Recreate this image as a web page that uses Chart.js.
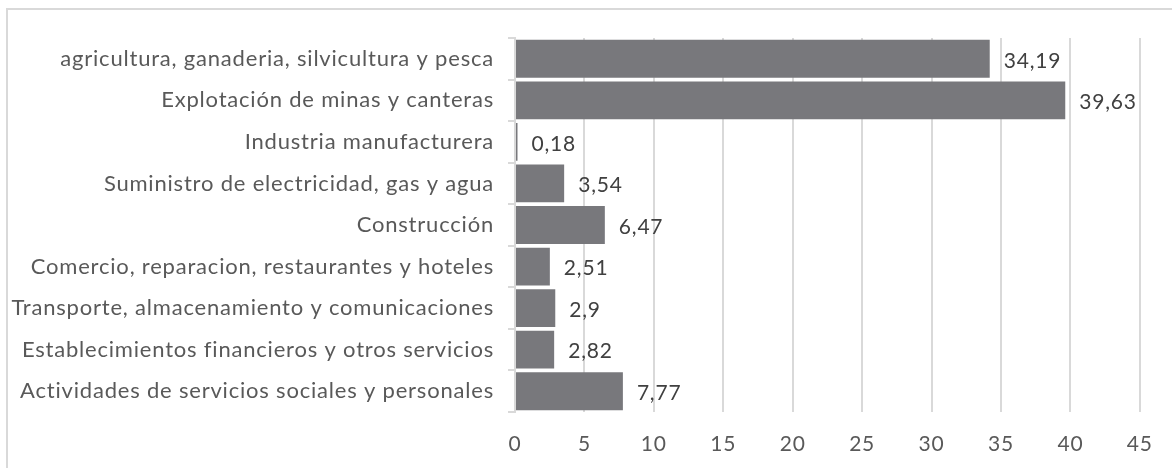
<!DOCTYPE html>
<html>
<head>
<meta charset="utf-8">
<script src="https://cdn.jsdelivr.net/npm/chart.js@4.4.0/dist/chart.umd.min.js"></script>
<style>
  html, body { margin: 0; padding: 0; background: #fff; }
  #wrap { position: relative; width: 1172px; height: 468px; }
</style>
</head>
<body>
<div id="wrap"><canvas id="sectores"></canvas></div>
<script>
// Sectores y participación (%)
const sectores = [
    'agricultura, ganaderia, silvicultura y pesca',
    'Explotación de minas y canteras',
    'Industria manufacturera',
    'Suministro de electricidad, gas y agua',
    'Construcción',
    'Comercio, reparacion, restaurantes y hoteles',
    'Transporte, almacenamiento y comunicaciones',
    'Establecimientos financieros y otros servicios',
    'Actividades de servicios sociales y personales'
];
const valores = [34.19, 39.63, 0.18, 3.54, 6.47, 2.51, 2.9, 2.82, 7.77];
const ticksX = [0, 5, 10, 15, 20, 25, 30, 35, 40, 45];

const fuente = 'Lato, "Open Sans", sans-serif';
const gris = '#595959';

// etiquetas de valor a la derecha de cada barra
const etiquetasValor = {
    id: 'etiquetasValor',
    afterDatasetsDraw(chart) {
        const ctx = chart.ctx;
        const meta = chart.getDatasetMeta(0);
        ctx.save();
        ctx.font = '21px ' + fuente;
        ctx.fillStyle = '#404040';
        ctx.textAlign = 'left';
        ctx.textBaseline = 'middle';
        meta.data.forEach((bar, i) => {
            const txt = String(valores[i]).replace('.', ',');
            ctx.fillText(txt, bar.x + 14, bar.y + 2);
        });
        ctx.restore();
    }
};

// marco del gráfico (solo borde superior e izquierdo) y espaciado de letras
const marco = {
    id: 'marco',
    beforeDraw(chart) {
        const ctx = chart.ctx;
        ctx.save();
        ctx.fillStyle = '#fff';
        ctx.fillRect(0, 0, chart.width, chart.height);
        ctx.strokeStyle = '#d9d9d9';
        ctx.lineWidth = 2;
        ctx.beginPath();
        ctx.moveTo(7, chart.height);
        ctx.lineTo(7, 9);
        ctx.lineTo(chart.width, 9);
        ctx.stroke();
        ctx.restore();
        ctx.letterSpacing = '0.8px';
    }
};

new Chart(document.getElementById('sectores'), {
    type: 'bar',
    data: {
        labels: sectores,
        datasets: [{
            data: valores,
            backgroundColor: '#78787c',
            categoryPercentage: 1,
            barPercentage: 0.91
        }]
    },
    options: {
        indexAxis: 'y',
        responsive: true,
        maintainAspectRatio: false,
        animation: false,
        layout: { padding: { top: 38, right: 27, bottom: 0, left: 0 } },
        plugins: {
            legend: { display: false },
            tooltip: { enabled: false }
        },
        scales: {
            x: {
                min: 0,
                max: 45,
                afterBuildTicks: (axis) => { axis.ticks = ticksX.map(v => ({ value: v })); },
                grid: { color: '#d9d9d9', lineWidth: 2, drawTicks: false },
                border: { display: false },
                ticks: { color: gris, font: { family: fuente, size: 21 }, padding: 20 },
                afterFit: (axis) => { axis.height = 56; }
            },
            y: {
                grid: { display: true, drawOnChartArea: false, color: '#d9d9d9', lineWidth: 2, tickLength: 7, offset: true },
                border: { color: '#d9d9d9', width: 2 },
                ticks: { color: gris, font: { family: fuente, size: 22 }, padding: 14 },
                afterFit: (axis) => { axis.width = 515; }
            }
        }
    },
    plugins: [marco, etiquetasValor]
});
</script>
</body>
</html>
